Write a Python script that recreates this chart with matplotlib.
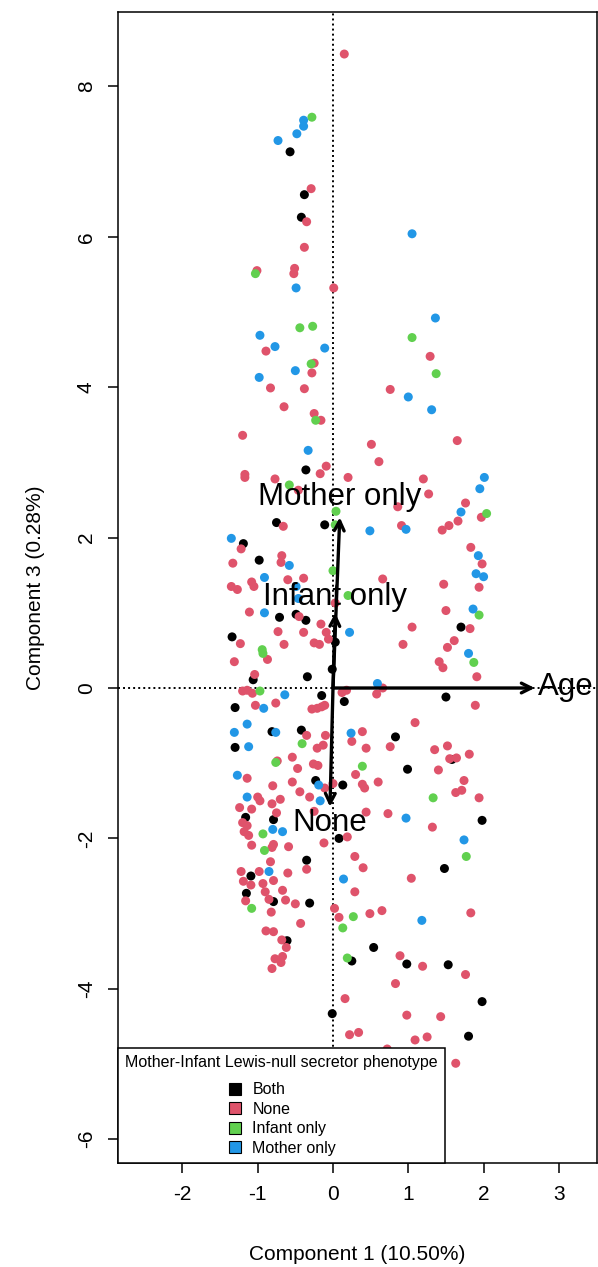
import matplotlib
matplotlib.use("Agg")
import matplotlib.pyplot as plt
from matplotlib.lines import Line2D

plt.rcParams['font.family'] = ['Liberation Sans', 'DejaVu Sans']
plt.rcParams['axes.unicode_minus'] = False

# ---------------------------------------------------------------------------
# Scores on component 1 / component 3, by mother-infant phenotype
# ---------------------------------------------------------------------------
both_x = [-0.57, -0.38, -0.42, -0.36, -0.75, -0.11, -1.19, -0.98, -0.71, -0.49,
          -0.36, 1.70, -1.34, 0.03, -1.06, -1.30, -0.34, -0.01, -0.15, 0.15,
          1.50, -0.81, -0.42, 0.83, -1.30, 1.58, 0.99, -0.23, 0.13, -1.16,
          -0.79, 1.98, 0.08, -0.35, 1.48, -1.09, -1.15, -0.79, -0.31, -0.61,
          0.54, 0.98, 1.53, 0.25, 1.98, -0.01, 1.80]
both_y = [7.13, 6.56, 6.26, 2.90, 2.20, 2.17, 1.92, 1.70, 0.94, 0.98,
          0.90, 0.81, 0.68, 0.61, 0.11, -0.26, 0.15, 0.25, -0.10, -0.18,
          -0.12, -0.58, -0.56, -0.65, -0.79, -0.95, -1.08, -1.23, -1.29, -1.72,
          -1.75, -1.76, -2.00, -2.29, -2.40, -2.50, -2.73, -2.84, -2.86, -3.36,
          -3.45, -3.67, -3.68, -3.63, -4.17, -4.33, -4.63]

none_x = [0.15, -0.29, -0.35, -0.38, -1.01, -0.51, -0.52, 0.01, -0.89, 1.29,
          -0.25, -0.28, -0.83, -0.38, 0.76, -0.65, -0.25, -0.16, -1.20, 0.51,
          1.65, 0.61, -0.09, -0.17, -1.17, -1.17, -0.77, 0.20, 1.20, -0.46,
          1.27, 1.76, 0.86, 1.97, -0.66, 1.66, 1.54, 1.45, 0.91, -1.22,
          1.83, 1.98, 1.94, -0.68, -0.69, -1.33, -0.60, -0.39, 0.66, 1.47,
          -1.35, -1.27, -1.08, -1.05, 0.03, -1.11, -0.45, -0.16, 1.50, 1.05,
          1.82, 1.61, 1.52, 1.41, 1.46, -1.23, -0.73, -0.39, -0.09, -0.06,
          -0.25, -0.18, -0.65, 0.93, -0.87, -1.31, -1.04, -1.20, -1.14, -1.07,
          -1.03, -0.76, 0.12, 0.18, 0.66, 0.58, 1.89, 1.91, -0.28, -0.21,
          -0.15, -0.11, 1.09, -0.35, -0.10, 0.39, 0.25, 0.44, 0.76, -0.21,
          -0.13, 1.35, 1.52, 1.55, 1.64, 1.81, -0.74, -0.54, -0.47, -0.26,
          -0.20, 1.40, -1.14, -0.80, -0.54, -0.11, 0.00, 0.30, 0.39, 0.42,
          0.60, 1.74, 1.63, 1.71, 1.94, -0.44, -0.31, -1.00, -0.97, -0.70,
          -1.24, -1.08, -0.81, -0.25, 0.44, 0.73, 1.32, -0.75, -1.20, -1.14,
          -1.18, -1.12, -1.08, -0.81, -0.79, -0.59, -0.12, 0.19, 0.29, 0.40,
          -0.35, -0.83, -1.22, -0.98, -0.60, 1.04, -1.19, -0.93, -0.79, -1.09,
          -0.90, -0.67, -1.16, -0.85, -0.63, -0.82, -0.89, -0.79, -0.50, -0.43,
          -0.68, -0.62, -0.77, -0.67, -0.69, -0.81, 0.02, 0.08, 0.29, 0.49,
          0.65, 1.83, 0.89, 1.19, 1.76, 0.83, 0.16, 0.98, 1.43, 0.22,
          0.34, 1.09, 1.25, 0.72, 1.63]
none_y = [8.43, 6.64, 6.20, 5.86, 5.55, 5.58, 5.51, 5.32, 4.48, 4.41,
          4.32, 4.19, 3.99, 3.98, 3.97, 3.74, 3.65, 3.56, 3.36, 3.24,
          3.29, 3.01, 2.95, 2.85, 2.84, 2.80, 2.78, 2.80, 2.78, 2.63,
          2.58, 2.46, 2.41, 2.27, 2.15, 2.22, 2.16, 2.10, 2.16, 1.85,
          1.87, 1.65, 1.34, 1.76, 1.67, 1.66, 1.44, 1.46, 1.45, 1.38,
          1.35, 1.31, 1.41, 1.35, 1.13, 1.01, 0.95, 0.85, 1.03, 0.81,
          0.79, 0.63, 0.54, 0.35, 0.27, 0.59, 0.75, 0.74, 0.74, 0.65,
          0.60, 0.58, 0.58, 0.58, 0.38, 0.35, 0.18, -0.04, -0.03, -0.07,
          -0.23, -0.20, -0.06, -0.03, 0.00, -0.08, -0.23, 0.15, -0.28, -0.27,
          -0.25, -0.23, -0.46, -0.63, -0.63, -0.58, -0.71, -0.80, -0.78, -0.80,
          -0.76, -0.82, -0.77, -0.94, -0.93, -0.88, -0.97, -0.92, -1.07, -1.01,
          -1.03, -1.09, -1.20, -1.30, -1.25, -1.33, -1.27, -1.15, -1.28, -1.33,
          -1.25, -1.23, -1.39, -1.36, -1.46, -1.38, -1.45, -1.45, -1.50, -1.48,
          -1.59, -1.61, -1.54, -1.64, -1.65, -1.67, -1.85, -1.66, -1.79, -1.83,
          -1.91, -1.96, -2.09, -2.12, -2.08, -2.11, -2.06, -1.98, -2.24, -2.39,
          -2.41, -2.31, -2.44, -2.44, -2.46, -2.53, -2.57, -2.60, -2.56, -2.62,
          -2.71, -2.69, -2.83, -2.81, -2.82, -2.98, -3.23, -3.24, -2.87, -3.13,
          -3.35, -3.45, -3.60, -3.57, -3.65, -3.73, -2.93, -3.05, -2.71, -3.00,
          -2.96, -2.99, -3.56, -3.70, -3.81, -3.93, -4.13, -4.35, -4.37, -4.61,
          -4.58, -4.68, -4.64, -4.80, -4.99]

infant_x = [-0.28, -1.03, -0.44, -0.27, 1.05, 1.37, -0.29, -0.23, -0.58, 2.04,
            0.04, 0.03, 0.00, 0.20, 1.94, 1.87, -0.94, -0.93, -0.97, -0.41,
            0.39, 1.33, -0.93, -0.91, 1.77, -1.08, 0.27, 0.13, 0.19, -0.76]
infant_y = [7.59, 5.51, 4.79, 4.81, 4.66, 4.18, 4.31, 3.56, 2.70, 2.32,
            2.35, 2.17, 1.56, 1.23, 0.97, 0.34, 0.51, 0.46, -0.04, -0.74,
            -1.04, -1.46, -1.94, -2.16, -2.24, -2.93, -3.04, -3.19, -3.59, -0.99]

mother_x = [-0.39, -0.39, -0.48, -0.73, 1.05, -0.49, 1.36, -0.97, -0.77, -0.11,
            -0.50, -0.98, 1.00, 1.31, -0.33, 2.01, 1.95, 1.70, 0.49, 0.97,
            -1.35, 1.93, 1.90, 2.00, -0.58, -0.91, -0.49, -0.46, -0.91, 1.86,
            0.22, 1.80, 0.59, -0.64, -0.92, -1.14, -1.31, -0.76, 0.24, -1.12,
            -1.27, -0.19, -1.14, -0.17, 0.97, 1.74, -0.80, -0.67, 0.14, -0.85,
            1.18]
mother_y = [7.55, 7.47, 7.37, 7.28, 6.04, 5.32, 4.92, 4.69, 4.54, 4.52,
            4.22, 4.13, 3.87, 3.70, 3.16, 2.80, 2.65, 2.34, 2.09, 2.11,
            1.99, 1.76, 1.52, 1.48, 1.63, 1.47, 1.35, 1.19, 1.00, 1.05,
            0.74, 0.46, 0.06, -0.09, -0.27, -0.48, -0.59, -0.59, -0.60, -0.78,
            -1.16, -1.29, -1.45, -1.50, -1.73, -2.02, -1.88, -1.91, -2.54, -2.44,
            -3.09]

# variable loadings (arrow tips)
var_names = ["Age", "Mother only", "Infant only", "None"]
var_x = [2.68, 0.09, 0.03, -0.04]
var_y = [0.00, 2.27, 1.00, -1.58]

groups = ["Both", "None", "Infant only", "Mother only"]
colors = ["#000000", "#DF536B", "#61D04F", "#2297E6"]

# ---------------------------------------------------------------------------
# Plot
# ---------------------------------------------------------------------------
fig = plt.figure(figsize=(5.98, 12.67), dpi=100)
ax = fig.add_axes([118 / 598, 1 - 1163 / 1267, 479 / 598, 1151 / 1267])

ax.axhline(0, color="black", lw=1.4, ls=(0, (1, 1.6)), zorder=1)
ax.axvline(0, color="black", lw=1.4, ls=(0, (1, 1.6)), zorder=1)

series = [(both_x, both_y), (none_x, none_y), (infant_x, infant_y), (mother_x, mother_y)]
for (xs, ys), col in zip(series, colors):
    ax.scatter(xs, ys, s=42, color=col, edgecolors="none", zorder=2)

# arrows + labels
label_off = {"Age": (0.04, 0.02, "left", "center"),
             "Mother only": (0.0, 0.27, "center", "center"),
             "Infant only": (0.0, 0.21, "center", "center"),
             "None": (0.0, -0.22, "center", "center")}
for name, vx, vy in zip(var_names, var_x, var_y):
    ax.annotate("", xy=(vx, vy), xytext=(0, 0),
                arrowprops=dict(arrowstyle="->,head_length=0.7,head_width=0.35",
                                color="black", lw=2.4, shrinkA=0, shrinkB=0),
                zorder=4)
    dx, dy, ha, va = label_off[name]
    ax.text(vx + dx, vy + dy, name, fontsize=22.5, ha=ha, va=va, zorder=5)

ax.set_xlim(-2.855, 3.506)
ax.set_ylim(-6.316, 8.989)
ax.set_xticks([-2, -1, 0, 1, 2, 3])
ax.set_yticks([-6, -4, -2, 0, 2, 4, 6, 8])
ax.tick_params(axis="both", length=7, width=1.1, labelsize=15, pad=9)
plt.setp(ax.get_yticklabels(), rotation=90, va="center")
for sp in ax.spines.values():
    sp.set_linewidth(1.1)

ax.set_xlabel("Component 1 (10.50%)", fontsize=15, labelpad=29)
ax.set_ylabel("Component 3 (0.28%)", fontsize=15, labelpad=23)

handles = [Line2D([], [], marker="s", ls="none", markersize=9, markerfacecolor=c,
                  markeredgecolor="black", markeredgewidth=0.8) for c in colors]
leg = ax.legend(handles, groups, title="Mother-Infant Lewis-null secretor phenotype",
                loc="lower left", bbox_to_anchor=(0, 0), borderaxespad=0,
                fontsize=11.5, title_fontsize=11.5, frameon=True, fancybox=False,
                edgecolor="black", framealpha=1, labelspacing=0.28,
                handletextpad=0.6, handlelength=1.0, alignment="center",
                borderpad=0.45)
leg._legend_box.sep = 9
leg.get_frame().set_linewidth(1.1)
leg.set_zorder(10)

fig.savefig("out.png", dpi=100)
